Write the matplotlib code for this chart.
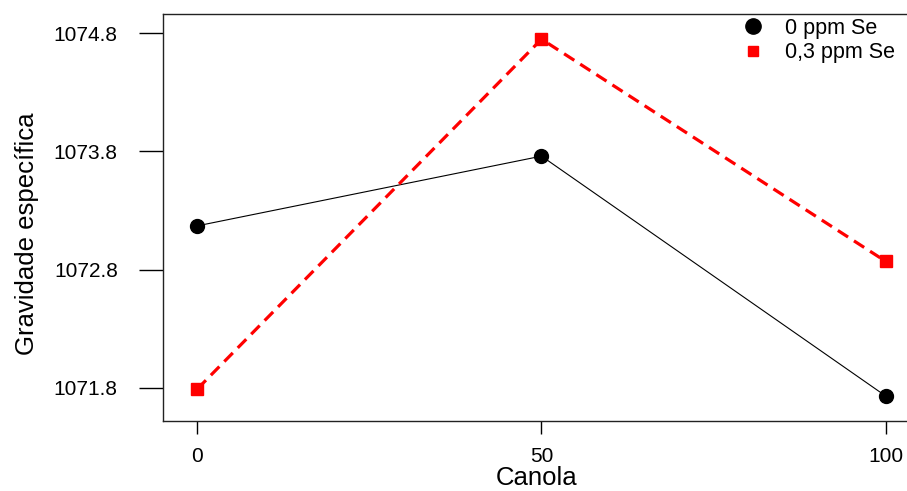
import matplotlib
matplotlib.use('Agg')
import matplotlib.pyplot as plt
from matplotlib.lines import Line2D

plt.rcParams.update({
    'font.family': ['Liberation Sans', 'DejaVu Sans'],
    'axes.linewidth': 1.0,
})

canola = [0, 50, 100]
se_0 = [1073.17, 1073.76, 1071.73]
se_03 = [1071.79, 1074.75, 1072.87]
series_labels = ['0 ppm Se', '0,3 ppm Se']
y_ticks = [1071.8, 1072.8, 1073.8, 1074.8]
x_ticks = [0, 50, 100]

W, H = 907, 491
fig = plt.figure(figsize=(W / 100, H / 100), dpi=100)
# axes box runs past the right edge of the picture (cropped R plot)
left, right, top, bottom = 163, 920, 14, 421
ax = fig.add_axes([left / W, (H - bottom) / H, (right - left) / W, (bottom - top) / H])

ax.plot(canola, se_0, color='black', lw=0.8, marker='o', ms=10, label=series_labels[0])
ax.plot(canola, se_03, color='red', lw=2.3, linestyle=(0, (3.8, 2.2)),
        marker='s', ms=8, label=series_labels[1])

ax.set_xlim(-5, 105)
ax.set_ylim(1071.518, 1074.963)
ax.set_xticks(x_ticks)
ax.set_xticklabels([str(v) for v in x_ticks])
ax.set_yticks(y_ticks)
ax.set_yticklabels([f'{v:.1f}' for v in y_ticks])

ax.tick_params(axis='y', direction='out', length=17.5, width=1, pad=15, labelsize=15)
ax.tick_params(axis='x', direction='out', length=9, width=1, pad=10, labelsize=15)

for s in ax.spines.values():
    s.set_color('#222222')

ax.set_xlabel('Canola', fontsize=18.5)
ax.xaxis.set_label_coords(537 / W, (H - 466) / H, transform=fig.transFigure)
ax.set_ylabel('Gravidade específica', fontsize=18.5)
ax.yaxis.set_label_coords(39 / W, (H - 234) / H, transform=fig.transFigure)

handles = [
    Line2D([], [], color='black', marker='o', ms=11, linestyle='none'),
    Line2D([], [], color='red', marker='s', ms=7.5, linestyle='none'),
]
ax.legend(handles, series_labels, loc='upper left', bbox_to_anchor=(742 / W, (H - 18) / H),
          bbox_transform=fig.transFigure, frameon=False, fontsize=15.5,
          handlelength=1.0, handletextpad=1.0, labelspacing=0.15,
          borderpad=0, borderaxespad=0, numpoints=1)

fig.savefig('out.png', dpi=100, facecolor='white')
